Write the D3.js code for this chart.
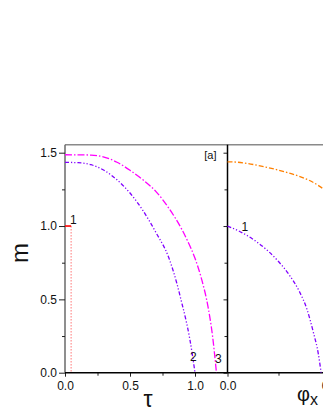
<!DOCTYPE html>
<html>
<head>
<meta charset="utf-8">
<script src="https://cdn.jsdelivr.net/npm/d3@7"></script>
<style>
  html, body { margin: 0; padding: 0; background: #fff; overflow: hidden; }
  text { font-family: "Liberation Sans", Arial, sans-serif; }
</style>
</head>
<body>
<svg id="chart" width="323" height="418"></svg>
<script>
// ---- data ----
const mTicks = [0.0, 0.5, 1.0, 1.5];
const mMinor = [0.25, 0.75, 1.25];
const tauTicks = [0.0, 0.5, 1.0];
const tauMinor = [0.25, 0.75];
const phiTicks = [0.0, 0.5];
const phiMinor = [0.25];

// left panel: curve 2 (purple), curve 3 (magenta), curve 1 (red)
const tau2 = [0, 0.1, 0.2, 0.3, 0.4, 0.5, 0.6, 0.7, 0.8, 0.86, 0.9, 0.93, 0.96, 1.0];
const m2   = [1.434, 1.432, 1.418, 1.38, 1.315, 1.225, 1.105, 0.955, 0.78, 0.61, 0.47, 0.36, 0.23, 0.0];
const tau3 = [0, 0.2, 0.3, 0.4, 0.5, 0.6, 0.7, 0.8, 0.9, 0.95, 1.0, 1.05, 1.1, 1.135, 1.165];
const m3   = [1.486, 1.484, 1.47, 1.435, 1.38, 1.315, 1.235, 1.12, 0.975, 0.885, 0.78, 0.64, 0.45, 0.25, 0.0];
const tau1 = [0, 0.047];
const m1L  = [1.0, 1.0];
const tauDrop = 0.047;

// right panel: orange curve and curve 1 (purple)
const phiO = [0, 0.05, 0.1, 0.15, 0.2, 0.25, 0.3, 0.35, 0.4, 0.45, 0.5, 0.55];
const mO   = [1.438, 1.435, 1.426, 1.413, 1.398, 1.381, 1.362, 1.34, 1.312, 1.272, 1.222, 1.16];
const phi1 = [0, 0.05, 0.1, 0.15, 0.2, 0.25, 0.3, 0.35, 0.39, 0.42, 0.445, 0.459];
const m1R  = [1.0, 0.970, 0.932, 0.885, 0.828, 0.758, 0.672, 0.56, 0.43, 0.28, 0.13, 0.0];

// ---- layout ----
const svg = d3.select("#chart");
const plotTop = 144.7, plotBottom = 372.7;
const y = d3.scaleLinear().domain([0, 1.5]).range([plotBottom, 152.7]);
const xL = d3.scaleLinear().domain([0, 1.25]).range([65, 227.5]);
const xR = d3.scaleLinear().domain([0, 0.6]).range([227.5, 227.5 + 0.6 * 204]);

const fmt = d3.format(".1f");

// frames
svg.append("line").attr("x1", 65).attr("x2", 400).attr("y1", plotTop).attr("y2", plotTop)
  .attr("stroke", "#8a8a8a").attr("stroke-width", 1.5);
svg.append("line").attr("x1", 65).attr("x2", 65).attr("y1", plotTop).attr("y2", plotBottom)
  .attr("stroke", "#6a6a6a").attr("stroke-width", 1.5);

// left y axis
const gyL = svg.append("g").attr("transform", "translate(65,0)")
  .call(d3.axisLeft(y).tickValues(mTicks).tickFormat(fmt).tickSize(6).tickPadding(2));
gyL.select(".domain").remove();
svg.append("g").attr("transform", "translate(65,0)")
  .call(d3.axisLeft(y).tickValues(mMinor).tickFormat("").tickSize(3))
  .select(".domain").remove();

// middle axis (right panel's left axis)
const gyR = svg.append("g").attr("transform", "translate(227.5,0)")
  .call(d3.axisLeft(y).tickValues(mTicks).tickFormat("").tickSize(4));
gyR.select(".domain").remove();
svg.append("g").attr("transform", "translate(227.5,0)")
  .call(d3.axisLeft(y).tickValues(mMinor).tickFormat("").tickSize(3))
  .select(".domain").remove();
svg.append("line").attr("x1", 227.5).attr("x2", 227.5).attr("y1", plotTop).attr("y2", plotBottom)
  .attr("stroke", "#000").attr("stroke-width", 1.5);

// bottom axes
const gxL = svg.append("g").attr("transform", `translate(0,${plotBottom})`)
  .call(d3.axisBottom(xL).tickValues(tauTicks).tickFormat(fmt).tickSize(4).tickPadding(5));
gxL.select(".domain").remove();
svg.append("g").attr("transform", `translate(0,${plotBottom})`)
  .call(d3.axisBottom(xL).tickValues(tauMinor).tickFormat("").tickSize(3))
  .select(".domain").remove();
const gxR = svg.append("g").attr("transform", `translate(0,${plotBottom})`)
  .call(d3.axisBottom(xR).tickValues(phiTicks).tickFormat(fmt).tickSize(4).tickPadding(5));
gxR.select(".domain").remove();
svg.append("g").attr("transform", `translate(0,${plotBottom})`)
  .call(d3.axisBottom(xR).tickValues(phiMinor).tickFormat("").tickSize(3))
  .select(".domain").remove();
svg.append("line").attr("x1", 65).attr("x2", 400).attr("y1", plotBottom).attr("y2", plotBottom)
  .attr("stroke", "#000").attr("stroke-width", 1.5);

svg.selectAll(".tick text").attr("font-size", 12).attr("fill", "#111")
  .attr("font-family", "'Liberation Sans', Arial, sans-serif");
svg.selectAll(".tick line").attr("stroke", "#222").attr("stroke-width", 1);

// curves
const zip = (xs, ys) => xs.map((v, i) => [v, ys[i]]);
const lineL = d3.line().x(d => xL(d[0])).y(d => y(d[1])).curve(d3.curveMonotoneX);
const lineR = d3.line().x(d => xR(d[0])).y(d => y(d[1])).curve(d3.curveMonotoneX);

svg.append("path").attr("d", lineL(zip(tau3, m3))).attr("fill", "none")
  .attr("stroke", "#ff00ff").attr("stroke-width", 1.3).attr("stroke-dasharray", "7,2,1.5,2");
svg.append("path").attr("d", lineL(zip(tau2, m2))).attr("fill", "none")
  .attr("stroke", "#8000ff").attr("stroke-width", 1.3).attr("stroke-dasharray", "4,2,1.2,2,1.2,2");
svg.append("line").attr("x1", xL(tauDrop)).attr("x2", xL(tauDrop))
  .attr("y1", y(1.0)).attr("y2", y(0)).attr("stroke", "#ff5050").attr("stroke-width", 0.8)
  .attr("stroke-dasharray", "1.5,1.5");
svg.append("path").attr("d", lineL(zip(tau1, m1L))).attr("fill", "none")
  .attr("stroke", "#ff0000").attr("stroke-width", 1.6);

svg.append("path").attr("d", lineR(zip(phiO, mO))).attr("fill", "none")
  .attr("stroke", "#ff8000").attr("stroke-width", 1.3).attr("stroke-dasharray", "5,2,1.5,2");
svg.append("path").attr("d", lineR(zip(phi1, m1R))).attr("fill", "none")
  .attr("stroke", "#8000ff").attr("stroke-width", 1.3).attr("stroke-dasharray", "4,2,1.2,2,1.2,2");

// annotations
const ann = (x, yy, t, size) => svg.append("text").attr("x", x).attr("y", yy)
  .attr("font-size", size || 12).attr("fill", "#111").text(t);
ann(70, 224, "1");
ann(241.5, 230.5, "1");
ann(190, 361, "2");
ann(215, 362.5, "3");
svg.append("text").attr("x", 216.5).attr("y", 159).attr("text-anchor", "end")
  .attr("font-size", 11).attr("fill", "#111").text("[a]");

// axis titles
svg.append("text").attr("transform", "translate(28,253) rotate(-90)")
  .attr("text-anchor", "middle").attr("font-size", 24).attr("fill", "#111").text("m");
svg.append("text").attr("x", 148).attr("y", 407).attr("text-anchor", "middle")
  .attr("font-size", 23).attr("fill", "#111").text("τ");
const phiT = svg.append("text").attr("x", 297).attr("y", 401).attr("font-size", 20).attr("fill", "#111");
phiT.append("tspan").text("φ");
phiT.append("tspan").attr("font-size", 16).attr("dy", 4).text("x");
</script>
</body>
</html>
